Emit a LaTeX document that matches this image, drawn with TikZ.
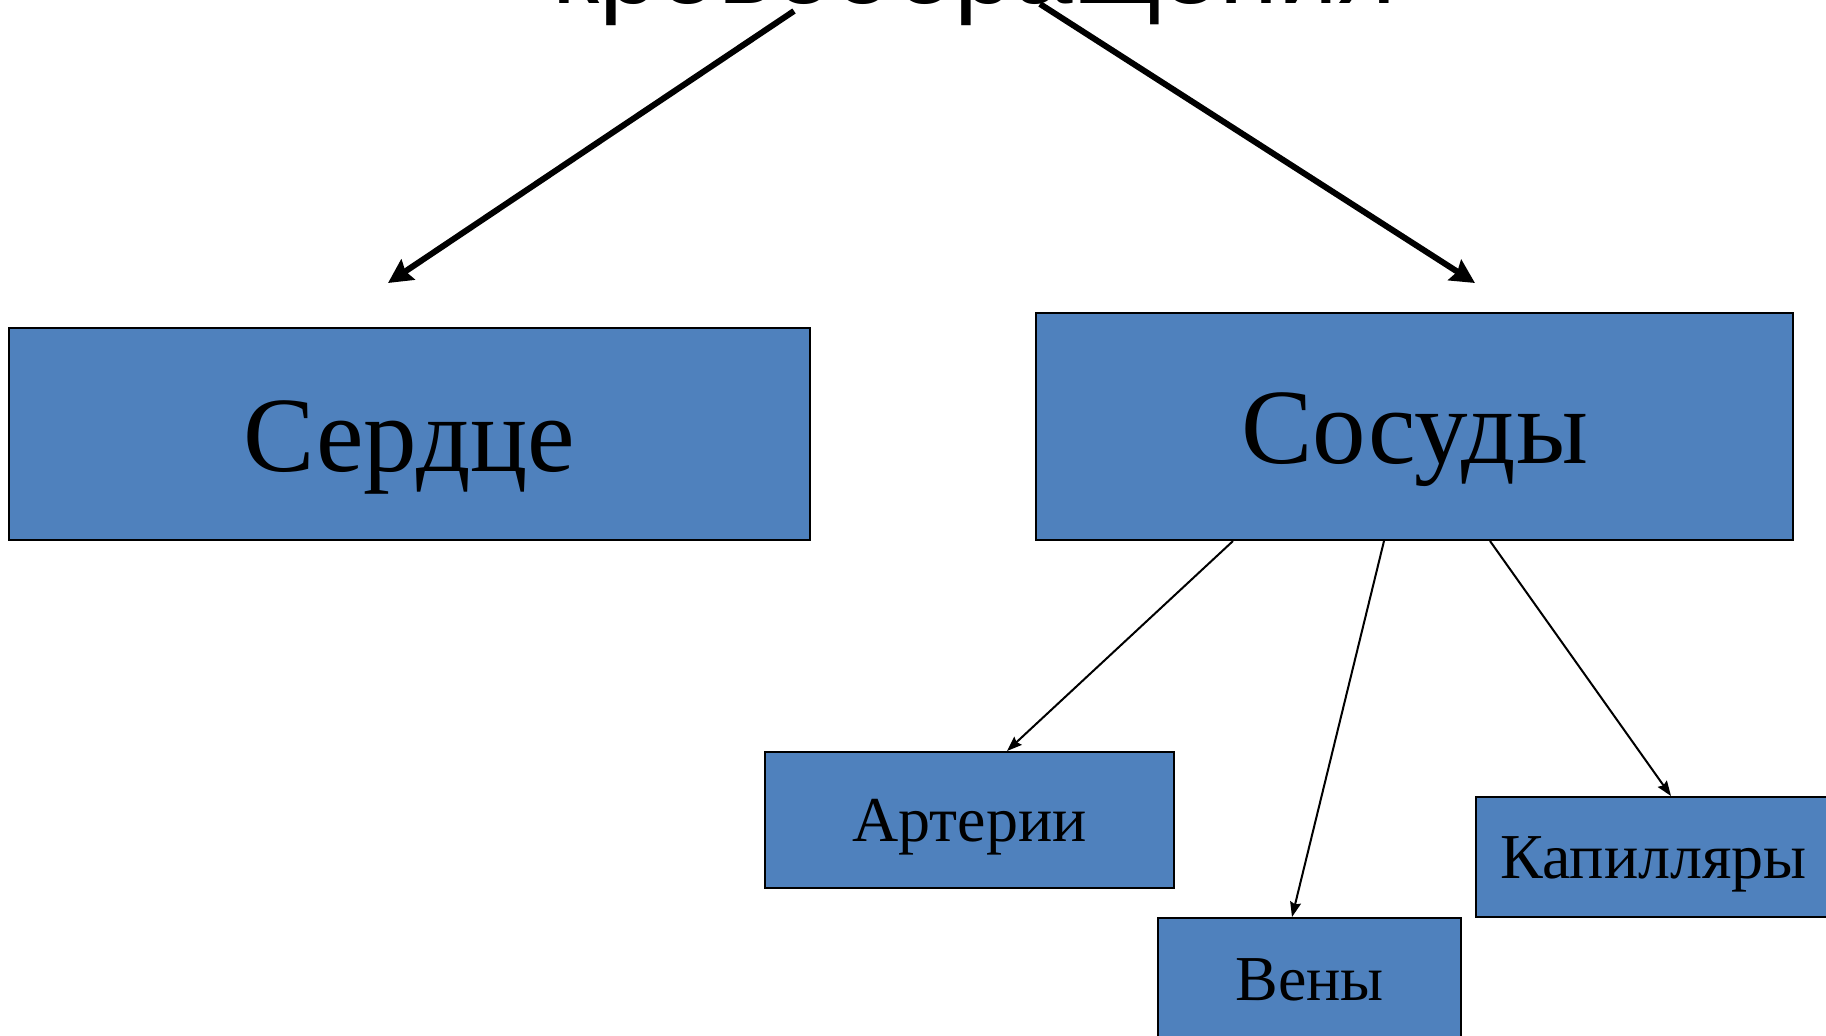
\documentclass[tikz,border=0pt]{standalone}
\usepackage{fontspec}
\setmainfont{Liberation Serif}
\newfontfamily\titlefont{Liberation Sans}
\usetikzlibrary{arrows.meta,calc}
\definecolor{boxblue}{HTML}{4F81BD}
\tikzset{
  blockbox/.style={draw=black, line width=2pt, fill=boxblue, inner sep=0pt, text depth=0pt},
  bigbox/.style={blockbox, font=\fontsize{107}{107}\selectfont, text height=74pt},
  smallbox/.style={blockbox, font=\fontsize{64}{64}\selectfont, text height=43.5pt},
  thickarrow/.style={line width=6pt, -{Stealth[length=24pt,width=24pt,inset=3pt]}},
  thinarrow/.style={line width=2pt, -{Stealth[length=15pt,width=11pt,inset=2pt]}}
}
\begin{document}
\begin{tikzpicture}[x=1pt,y=-1pt]
\useasboundingbox (0,0) rectangle (1826,1036);
\clip (0,0) rectangle (1826,1036);
\node[anchor=base, font=\titlefont\fontsize{107}{107}\selectfont, inner sep=0pt] (title) at (974.5,4) {кровообращения};

\node[bigbox, minimum width=801pt, minimum height=212pt] (serdce) at (409.5,434) {Сердце};
\node[bigbox, minimum width=757pt, minimum height=227pt] (sosudy) at (1414.5,426.5) {Сосуды};
\node[smallbox, minimum width=409pt, minimum height=136pt] (arterii) at (969.5,820) {Артерии};
\node[smallbox, minimum width=303pt, minimum height=122pt] (veny) at (1309.5,979) {Вены};
\node[smallbox, minimum width=356pt, minimum height=120pt] (kapil) at (1653.5,857) {Капилляры};

\coordinate (lstart) at (794,11);
\coordinate (lend) at (388,283);
\coordinate (rstart) at (1040,4);
\coordinate (rend) at (1475,283);
\draw[thickarrow] (lstart) -- (lend);
\draw[thickarrow] (rstart) -- (rend);

\draw[thinarrow] ([xshift=198pt]sosudy.south west) -- ([xshift=243pt]arterii.north west);
\draw[thinarrow] ([xshift=349pt]sosudy.south west) -- ([xshift=135pt]veny.north west);
\draw[thinarrow] ([xshift=455pt]sosudy.south west) -- ([xshift=196.5pt]kapil.north west);
\end{tikzpicture}
\end{document}
